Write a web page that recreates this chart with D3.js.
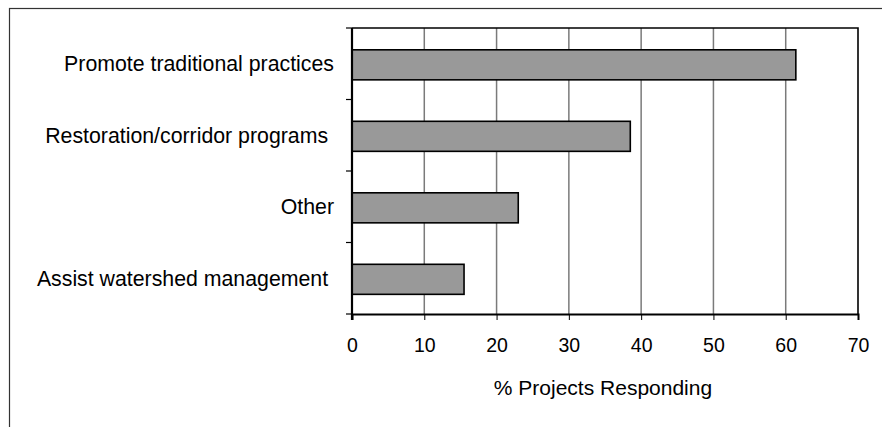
<!DOCTYPE html>
<html>
<head>
<meta charset="utf-8">
<script src="https://cdn.jsdelivr.net/npm/d3@7"></script>
<style>
    body { margin: 0; background: #fff; }
    text { font-family: "Liberation Sans", Arial, sans-serif; fill: #000; white-space: pre; }
</style>
</head>
<body>
<div id="chart"></div>
<script>
const categories = [
    "Promote traditional practices",
    "Restoration/corridor programs ",
    "Other",
    "Assist watershed management "
];
const values = [61.4, 38.5, 23.0, 15.5];
const xTicks = [0, 10, 20, 30, 40, 50, 60, 70];
const xTitle = "% Projects Responding";

const width = 882;
const height = 427;
const margin = { top: 28, right: 24, bottom: 113, left: 352 };
const innerW = width - margin.left - margin.right;
const innerH = height - margin.top - margin.bottom;

const svg = d3.select("#chart")
    .append("svg")
    .attr("width", width)
    .attr("height", height);

// outer frame (only top and left edges fall inside the picture)
svg.append("rect")
    .attr("x", 9.5)
    .attr("y", 8.5)
    .attr("width", width + 20)
    .attr("height", height + 20)
    .attr("fill", "none")
    .attr("stroke", "#333")
    .attr("stroke-width", 1.2);

const g = svg.append("g")
    .attr("transform", `translate(${margin.left}, ${margin.top})`);

const x = d3.scaleLinear().domain([0, 70]).range([0, innerW]);
const y = d3.scaleBand().domain(categories).range([0, innerH]).padding(0);

//gridlines
g.selectAll("line.grid")
    .data(xTicks.slice(1, -1))
    .enter()
    .append("line")
    .attr("class", "grid")
    .attr("x1", d => x(d))
    .attr("x2", d => x(d))
    .attr("y1", 0)
    .attr("y2", innerH)
    .attr("stroke", "#7a7a7a")
    .attr("stroke-width", 1.5);

//bars
g.selectAll("rect.bar")
    .data(values)
    .enter()
    .append("rect")
    .attr("class", "bar")
    .attr("x", x(0))
    .attr("y", (d, i) => y(categories[i]) + y.bandwidth() * 0.305)
    .attr("width", d => x(d) - x(0))
    .attr("height", y.bandwidth() * 0.42)
    .attr("fill", "#999999")
    .attr("stroke", "#000")
    .attr("stroke-width", 1.6);

//plot frame top/right
g.append("path")
    .attr("d", `M0,0H${innerW}V${innerH}`)
    .attr("fill", "none")
    .attr("stroke", "#000")
    .attr("stroke-width", 1.6);

//x axis
const xAxis = d3.axisBottom(x)
    .tickValues(xTicks)
    .tickSize(6)
    .tickPadding(18)
    .tickFormat(d3.format("d"));

const xg = g.append("g")
    .attr("transform", `translate(0, ${innerH})`)
    .call(xAxis);
xg.select(".domain").attr("stroke-width", 2);
xg.selectAll("text")
    .attr("font-size", 19.5)
    .attr("font-family", "'Liberation Sans', Arial, sans-serif");

//y axis with ticks at category boundaries
const boundaries = d3.range(categories.length + 1).map(i => i * y.step());
g.append("line")
    .attr("x1", 0).attr("x2", 0)
    .attr("y1", 0).attr("y2", innerH + 6)
    .attr("stroke", "#000")
    .attr("stroke-width", 2.2);
g.selectAll("line.ytick")
    .data(boundaries)
    .enter()
    .append("line")
    .attr("class", "ytick")
    .attr("x1", -6).attr("x2", 0)
    .attr("y1", d => d).attr("y2", d => d)
    .attr("stroke", "#000")
    .attr("stroke-width", 1.2);

g.selectAll("text.cat")
    .data(categories)
    .enter()
    .append("text")
    .attr("class", "cat")
    .attr("x", -18)
    .attr("y", d => y(d) + y.bandwidth() / 2)
    .attr("dy", "0.35em")
    .attr("text-anchor", "end")
    .attr("font-size", 21.3)
    .text(d => d);

g.append("text")
    .attr("x", innerW / 2 - 2)
    .attr("y", innerH + 81)
    .attr("text-anchor", "middle")
    .attr("font-size", 21)
    .text(xTitle);
</script>
</body>
</html>
